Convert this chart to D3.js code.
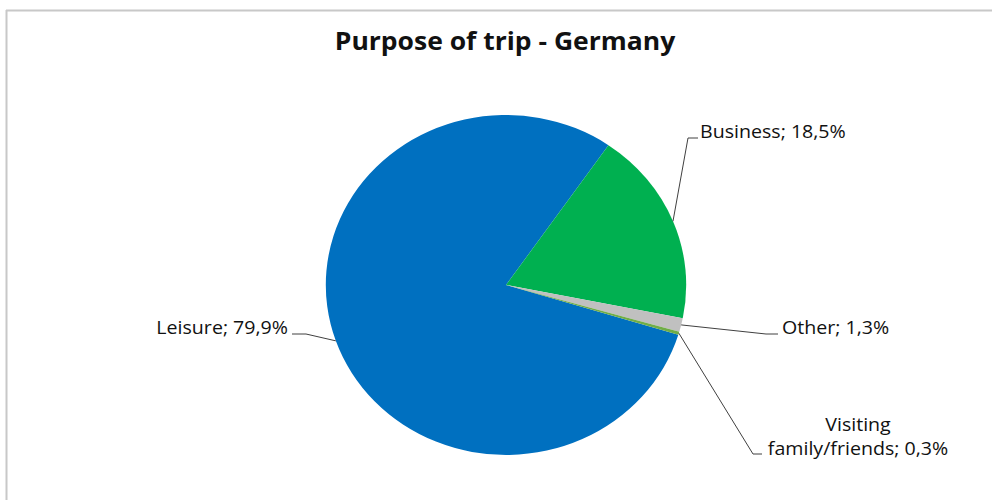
<!DOCTYPE html>
<html>
<head>
<meta charset="utf-8">
<script src="https://cdn.jsdelivr.net/npm/d3@7"></script>
<style>
  html, body { margin: 0; padding: 0; background: #fff; }
  svg text { font-family: "Open Sans", "Noto Sans", sans-serif; fill: #111; }
</style>
</head>
<body>
<div id="chart"></div>
<script>
// chart data
var title = "Purpose of trip - Germany";
var categories = ["Leisure", "Business", "Other", "Visiting family/friends"];
var shares = [79.9, 18.5, 1.3, 0.3];
var labelLines = [["Leisure; 79,9%"], ["Business; 18,5%"], ["Other; 1,3%"], ["Visiting", "family/friends; 0,3%"]];

// styling / layout
var colors = ["#0070c0", "#00b050", "#c0c0c0", "#70ad47"];
var width = 992, height = 500;
var cx = 506, cy = 285, radius = 170, stretchX = 1.06;
var startDeg = 107;

// where each label sits: elbow of the leader, end of the leader, text anchor
var labelLayout = {
    "Leisure":                 { elbow: [306, 334], end: [292, 334], text: [288, 334], anchor: "end" },
    "Business":                { elbow: [688, 138], end: [698, 138], text: [700, 138], anchor: "start" },
    "Other":                   { elbow: [766, 334], end: [778, 334], text: [782, 334], anchor: "start" },
    "Visiting family/friends": { elbow: [753, 454], end: [762, 454], text: [858, 431], anchor: "middle" }
};

var svg = d3.select("#chart").append("svg")
    .attr("width", width)
    .attr("height", height);

// frame (top and left edges are visible)
svg.append("line").attr("x1", 6).attr("y1", 10.5).attr("x2", width).attr("y2", 10.5)
    .attr("stroke", "#c8c8c8").attr("stroke-width", 2);
svg.append("line").attr("x1", 6.5).attr("y1", 10).attr("x2", 6.5).attr("y2", height)
    .attr("stroke", "#c8c8c8").attr("stroke-width", 2);

// text in the picture is slightly stretched sideways, like the pie
function stretchedText(parent, x, y) {
    return parent.append("g")
        .attr("transform", "translate(" + x + "," + y + ") scale(" + stretchX + ",1)")
        .append("text");
}

stretchedText(svg, 505, 50)
    .attr("text-anchor", "middle")
    .style("font-size", "25px")
    .style("font-weight", "bold")
    .text(title);

var pie = d3.pie().sort(null)
    .startAngle(startDeg * Math.PI / 180)
    .endAngle(startDeg * Math.PI / 180 + 2 * Math.PI);

var arcs = pie(shares);
var arc = d3.arc().innerRadius(0).outerRadius(radius);

var gPie = svg.append("g")
    .attr("transform", "translate(" + cx + "," + cy + ") scale(" + stretchX + ",1)");

gPie.selectAll("path.slice")
    .data(arcs)
    .enter()
    .append("path")
    .attr("class", "slice")
    .attr("d", arc)
    .attr("fill", (d, i) => colors[i]);

// leader lines start on the rim at the middle of each slice
function rimPoint(d) {
    var a = (d.startAngle + d.endAngle) / 2;
    return [cx + stretchX * radius * Math.sin(a), cy - radius * Math.cos(a)];
}

var gLabels = svg.append("g");

arcs.forEach(function (d, i) {
    var lay = labelLayout[categories[i]];
    var p0 = rimPoint(d);
    gLabels.append("polyline")
        .attr("points", [p0, lay.elbow, lay.end].map(p => p.join(",")).join(" "))
        .attr("fill", "none")
        .attr("stroke", "#404040")
        .attr("stroke-width", 1);

    var t = stretchedText(gLabels, lay.text[0], lay.text[1])
        .attr("text-anchor", lay.anchor)
        .style("font-size", "18.5px");
    labelLines[i].forEach(function (line, j) {
        t.append("tspan")
            .attr("x", 0)
            .attr("dy", j === 0 ? 0 : 24)
            .text(line);
    });
});
</script>
</body>
</html>
